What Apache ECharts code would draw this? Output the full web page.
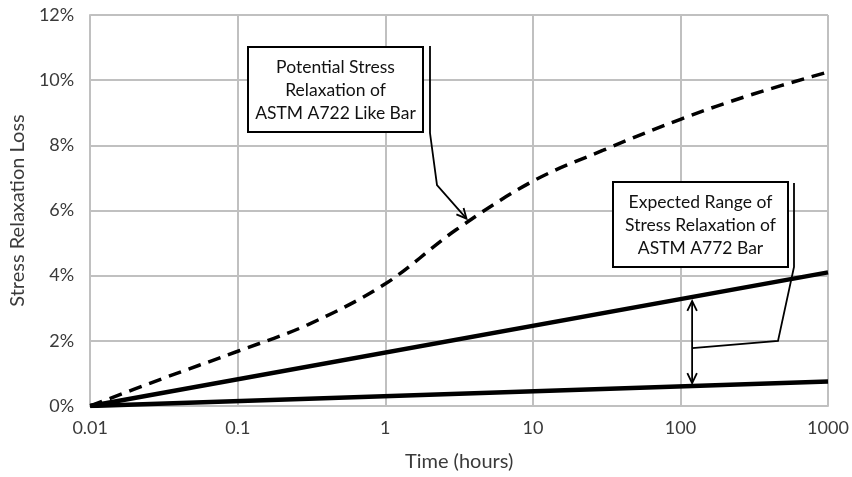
<!DOCTYPE html>
<html>
<head>
<meta charset="utf-8">
<script src="https://cdn.jsdelivr.net/npm/echarts@6/dist/echarts.min.js"></script>
<style>
  html, body { margin: 0; padding: 0; background: #fff; }
  #chart { width: 852px; height: 477px; }
</style>
</head>
<body>
<div id="chart"></div>
<script>
const times = [0.01, 0.03, 0.1, 0.3, 1, 3, 10, 30, 100, 300, 1000]
const a722Loss = [0, 0.82, 1.68, 2.5, 3.75, 5.4, 6.9, 7.85, 8.8, 9.55, 10.25]
const rangeTimes = [0.01, 1000]
const a772Upper = [0, 4.1]
const a772Lower = [0, 0.75]
const xTicks = [0.01, 0.1, 1, 10, 100, 1000]
const yTicks = [0, 2, 4, 6, 8, 10, 12]

const font = 'Lato, "Open Sans", sans-serif'
const gridColor = '#c0c0c0'
const labelColor = '#3a3a3a'

const chart = echarts.init(document.getElementById('chart'), null, { renderer: 'canvas' })

const pairs = (xs, ys) => xs.map((x, i) => [x, ys[i]])

const option = {
  animation: false,
  backgroundColor: '#fff',
  grid: { left: 86, right: 24, top: 15, bottom: 68 },
  xAxis: {
    type: 'log',
    logBase: 10,
    min: xTicks[0],
    max: xTicks[xTicks.length - 1],
    name: 'Time (hours)',
    nameLocation: 'middle',
    nameGap: 46,
    nameTextStyle: { fontFamily: font, fontSize: 20, color: labelColor },
    axisLine: { lineStyle: { color: gridColor, width: 2 } },
    axisTick: { show: false },
    axisLabel: {
      fontFamily: font, fontSize: 18, color: labelColor, margin: 13,
      formatter: v => String(Number(v.toPrecision(3)))
    },
    splitLine: { show: true, lineStyle: { color: gridColor, width: 2 } },
    minorTick: { show: false }
  },
  yAxis: {
    type: 'value',
    min: yTicks[0],
    max: yTicks[yTicks.length - 1],
    interval: 2,
    name: 'Stress Relaxation Loss',
    nameLocation: 'middle',
    nameGap: 61,
    nameRotate: 90,
    nameTextStyle: { fontFamily: font, fontSize: 20, color: labelColor },
    axisLine: { show: true, lineStyle: { color: gridColor, width: 2 } },
    axisTick: { show: false },
    axisLabel: {
      fontFamily: font, fontSize: 18, color: labelColor, margin: 16,
      formatter: v => v + '%'
    },
    splitLine: { show: true, lineStyle: { color: gridColor, width: 2 } }
  },
  series: [
    {
      name: 'A722',
      type: 'line',
      smooth: 0.35,
      symbol: 'none',
      lineStyle: { color: '#000', width: 3.5, type: [13, 8] },
      data: pairs(times, a722Loss),
      z: 5
    },
    {
      name: 'A772 upper',
      type: 'line',
      symbol: 'none',
      lineStyle: { color: '#000', width: 4.5 },
      data: pairs(rangeTimes, a772Upper),
      z: 5
    },
    {
      name: 'A772 lower',
      type: 'line',
      symbol: 'none',
      lineStyle: { color: '#000', width: 4.5 },
      data: pairs(rangeTimes, a772Lower),
      z: 5
    }
  ]
}

chart.setOption(option)

// arrowhead (open V) at tip, pointing from 'from' to 'tip'
const arrowHead = (from, tip, len = 11, ang = 0.45) => {
  const a = Math.atan2(tip[1] - from[1], tip[0] - from[0])
  return {
    type: 'polyline',
    shape: {
      points: [
        [tip[0] - len * Math.cos(a - ang), tip[1] - len * Math.sin(a - ang)],
        tip,
        [tip[0] - len * Math.cos(a + ang), tip[1] - len * Math.sin(a + ang)]
      ]
    },
    style: { stroke: '#000', lineWidth: 1.8, fill: null },
    z: 20
  }
}

const textBlock = (cx, top, lines) => lines.map((t, i) => ({
  type: 'text',
  x: cx,
  y: top + i * 23,
  style: {
    text: t, fontFamily: font, fontSize: 17.5, fill: '#111',
    align: 'center', verticalAlign: 'middle'
  },
  z: 22
}))

const buildGraphics = () => {
  // callout 1 -> dashed curve
  const tip1 = chart.convertToPixel({ gridIndex: 0 }, [3.55, 5.75])
  const bend1 = [437, 185]
  // callout 2 -> double arrow between the two solid lines
  const tArrow = 120
  const up = chart.convertToPixel({ gridIndex: 0 }, [tArrow, a772Upper[1] * (Math.log10(tArrow) + 2) / 5])
  const lo = chart.convertToPixel({ gridIndex: 0 }, [tArrow, a772Lower[1] * (Math.log10(tArrow) + 2) / 5])
  const ax = up[0]
  const up2 = [ax, up[1] + 4]
  const lo2 = [ax, lo[1] - 3]
  const join = [ax, (up2[1] + lo2[1]) / 2 + 6]

  const elems = [
    { type: 'rect', shape: { x: 248, y: 47, width: 175, height: 85 },
      style: { fill: '#fff', stroke: '#000', lineWidth: 2 }, z: 21 },
    ...textBlock(335.5, 67, ['Potential Stress', 'Relaxation of', 'ASTM A722 Like Bar']),
    { type: 'polyline', shape: { points: [[430, 46], [430, 133], bend1, tip1] },
      style: { stroke: '#000', lineWidth: 1.8, fill: null }, z: 20 },
    arrowHead(bend1, tip1),

    { type: 'rect', shape: { x: 613, y: 182, width: 175, height: 85 },
      style: { fill: '#fff', stroke: '#000', lineWidth: 2 }, z: 21 },
    ...textBlock(700.5, 202, ['Expected Range of', 'Stress Relaxation of', 'ASTM A772 Bar']),
    { type: 'polyline', shape: { points: [[794, 183], [794, 267], [778, 341], join] },
      style: { stroke: '#000', lineWidth: 1.8, fill: null }, z: 20 },
    { type: 'line', shape: { x1: ax, y1: up2[1], x2: ax, y2: lo2[1] },
      style: { stroke: '#000', lineWidth: 1.8 }, z: 20 },
    arrowHead([ax, join[1]], up2),
    arrowHead([ax, join[1]], lo2)
  ]
  chart.setOption({ graphic: { elements: elems } })
}

buildGraphics()
</script>
</body>
</html>
